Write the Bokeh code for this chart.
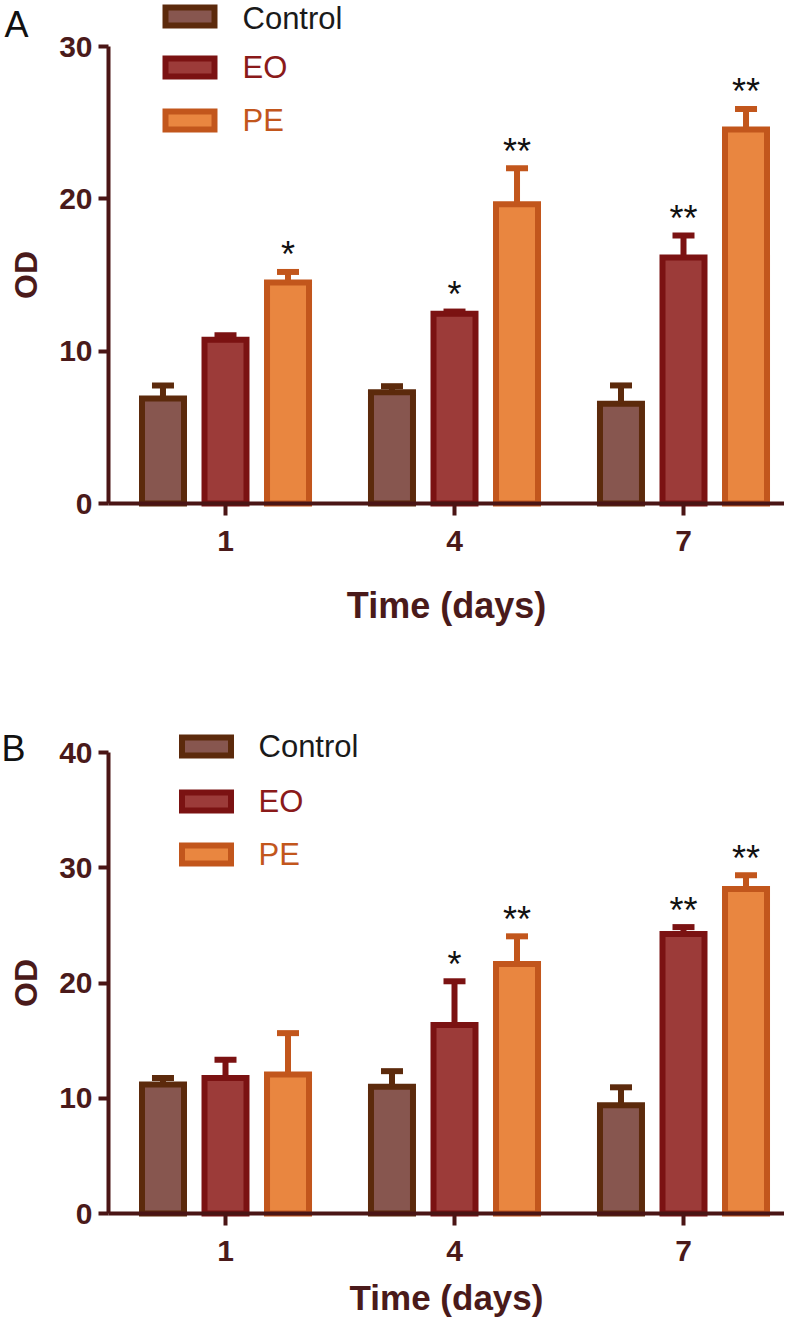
from bokeh.plotting import figure
from bokeh.models import Range1d, FixedTicker, ColumnDataSource
from bokeh.layouts import column
from bokeh.embed import file_html
from bokeh.resources import INLINE
from bokeh.core.properties import value

# ---------------- data ----------------
days = ["1", "4", "7"]
groups = ["Control", "EO", "PE"]

# Panel A
a_control = [6.9, 7.3, 6.55]
a_control_err = [0.85, 0.4, 1.2]
a_eo = [10.75, 12.45, 16.15]
a_eo_err = [0.3, 0.15, 1.45]
a_pe = [14.5, 19.65, 24.55]
a_pe_err = [0.7, 2.35, 1.35]
a_control_sig = ["", "", ""]
a_eo_sig = ["", "*", "**"]
a_pe_sig = ["*", "**", "**"]

# Panel B
b_control = [11.2, 11.0, 9.4]
b_control_err = [0.55, 1.35, 1.55]
b_eo = [11.75, 16.35, 24.25]
b_eo_err = [1.6, 3.8, 0.6]
b_pe = [12.05, 21.65, 28.15]
b_pe_err = [3.6, 2.4, 1.2]
b_control_sig = ["", "", ""]
b_eo_sig = ["", "*", "**"]
b_pe_sig = ["", "**", "**"]

a_ticks = [0, 10, 20, 30]
b_ticks = [0, 10, 20, 30, 40]

# ---------------- style ----------------
FILL = {"Control": "#87564f", "EO": "#9c3b39", "PE": "#e98640"}
LINE = {"Control": "#5c2a0c", "EO": "#7b1212", "PE": "#c2561c"}
LABEL_COLOR = {"Control": "#1a1a1a", "EO": "#8a1a1a", "PE": "#c2561c"}
AXIS = "#4a1515"
TEXT = "#4a1a1a"
FONT = "Liberation Sans"

W = 784
PX_X = 229.0            # pixels per group
GROUP0_PX = 225         # px from figure left to first group centre
YAXIS_PX = 108          # px from figure left to y axis
X0 = -GROUP0_PX / PX_X
X1 = X0 + W / PX_X
YAXIS_X = X0 + YAXIS_PX / PX_X
OFFSETS = [-0.273, 0.0, 0.273]
BAR_W = 42 / PX_X
CAP_HALF = 11 / PX_X


def make_panel(letter, height, zero_px, ticks, px_y,
               series, errs, sigs, leg_box_x, leg_text_x, leg_box_ys, leg_text_ys,
               letter_x, letter_mid, tick_standoff, title_standoff, title_size):
    # zero_px: px from figure top to the y=0 line
    y_top = zero_px / px_y
    y_bot = -(height - zero_px) / px_y
    p = figure(width=W, height=height, output_backend="svg", toolbar_location=None,
               x_range=Range1d(X0, X1), y_range=Range1d(y_bot, y_top),
               min_border_left=0, min_border_right=0,
               min_border_top=0, min_border_bottom=0)
    p.xgrid.visible = False
    p.ygrid.visible = False
    p.outline_line_color = None
    p.background_fill_color = "white"
    p.border_fill_color = "white"

    # y axis
    ya = p.yaxis[0]
    ya.fixed_location = YAXIS_X
    ya.ticker = FixedTicker(ticks=ticks)
    ya.bounds = (ticks[0], ticks[-1])
    ya.axis_line_width = 4
    ya.axis_line_color = AXIS
    ya.major_tick_line_color = AXIS
    ya.major_tick_line_width = 4
    ya.major_tick_out = 10
    ya.major_tick_in = 0
    ya.minor_tick_line_color = None
    ya.major_label_text_font = FONT
    ya.major_label_text_font_size = "30px"
    ya.major_label_text_font_style = "bold"
    ya.major_label_text_color = TEXT
    ya.major_label_standoff = 6
    ya.axis_label = "OD"
    ya.axis_label_text_font = FONT
    ya.axis_label_text_font_size = "32px"
    ya.axis_label_text_font_style = "bold"
    ya.axis_label_text_color = TEXT
    ya.axis_label_standoff = 12

    # x axis
    xa = p.xaxis[0]
    xa.fixed_location = 0
    xa.bounds = (YAXIS_X, X1)
    xa.ticker = FixedTicker(ticks=[0, 1, 2])
    xa.major_label_overrides = {i: d for i, d in enumerate(days)}
    xa.axis_line_width = 4
    xa.axis_line_color = AXIS
    xa.major_tick_line_color = AXIS
    xa.major_tick_line_width = 4
    xa.major_tick_out = 12
    xa.major_tick_in = 0
    xa.minor_tick_line_color = None
    xa.major_label_text_font = FONT
    xa.major_label_text_font_size = "30px"
    xa.major_label_text_font_style = "bold"
    xa.major_label_text_color = TEXT
    xa.major_label_standoff = tick_standoff
    xa.axis_label = "Time (days)"
    xa.axis_label_text_font = FONT
    xa.axis_label_text_font_size = title_size
    xa.axis_label_text_font_style = "bold"
    xa.axis_label_text_color = TEXT
    xa.axis_label_standoff = title_standoff

    star_x, star_y, star_t = [], [], []
    for gi, g in enumerate(groups):
        vals = series[gi]
        er = errs[gi]
        xs = [i + OFFSETS[gi] for i in range(len(days))]
        tops = [v + e for v, e in zip(vals, er)]
        src = ColumnDataSource(dict(x=xs, top=vals, etop=tops,
                                    cl=[x - CAP_HALF for x in xs],
                                    cr=[x + CAP_HALF for x in xs]))
        p.vbar(x="x", top="top", bottom=0, width=BAR_W, source=src,
               fill_color=FILL[g], line_color=LINE[g], line_width=6,
               line_join="miter")
        p.segment(x0="x", y0="top", x1="x", y1="etop", source=src,
                  line_color=LINE[g], line_width=6, line_cap="butt")
        p.segment(x0="cl", y0="etop", x1="cr", y1="etop", source=src,
                  line_color=LINE[g], line_width=6, line_cap="butt")
        for x, t, s in zip(xs, tops, sigs[gi]):
            if s:
                star_x.append(x)
                star_y.append(t)
                star_t.append(s)

    p.text(x=star_x, y=star_y, text=star_t, text_font=value(FONT),
           text_font_size=value("36px"), text_align="center",
           text_baseline="alphabetic", text_color="#111111", y_offset=-17)

    # legend (manual, per-item label colours)
    lx = X0 + leg_box_x / PX_X
    tx = X0 + leg_text_x / PX_X
    for gi, g in enumerate(groups):
        by = (zero_px - leg_box_ys[gi]) / px_y
        ty = (zero_px - leg_text_ys[gi]) / px_y
        p.rect(x=[lx], y=[by], width=49 / PX_X, height=18 / px_y,
               fill_color=FILL[g], line_color=LINE[g], line_width=6,
               line_join="miter")
        p.text(x=[tx], y=[ty], text=[g], text_font=value(FONT),
               text_font_size=value("31px"), text_align="left",
               text_baseline="middle", text_color=LABEL_COLOR[g])

    # panel letter
    p.text(x=[X0 + letter_x / PX_X], y=[(zero_px - letter_mid) / px_y], text=[letter],
           text_font=value(FONT), text_font_size=value("36px"),
           text_align="left", text_baseline="middle", text_color="#111111")
    return p


# Panel A: figure top at picture y=0, zero line at y=503
pA = make_panel("A", 650, 503, a_ticks, 457 / 30,
                [a_control, a_eo, a_pe], [a_control_err, a_eo_err, a_pe_err],
                [a_control_sig, a_eo_sig, a_pe_sig],
                189.5, 242, [16, 67, 120], [18, 67, 120],
                4, 24, 15, 31, "36px")
# Panel B: figure top at picture y=650, zero line at y=1213
pB = make_panel("B", 667, 563, b_ticks, 461 / 40,
                [b_control, b_eo, b_pe], [b_control_err, b_eo_err, b_pe_err],
                [b_control_sig, b_eo_sig, b_pe_sig],
                206, 258, [96, 151, 204], [96, 151, 204],
                1, 98, 15, 14, "35px")

layout = column(pA, pB, spacing=0)
open("out.html", "w").write(file_html(layout, INLINE))
